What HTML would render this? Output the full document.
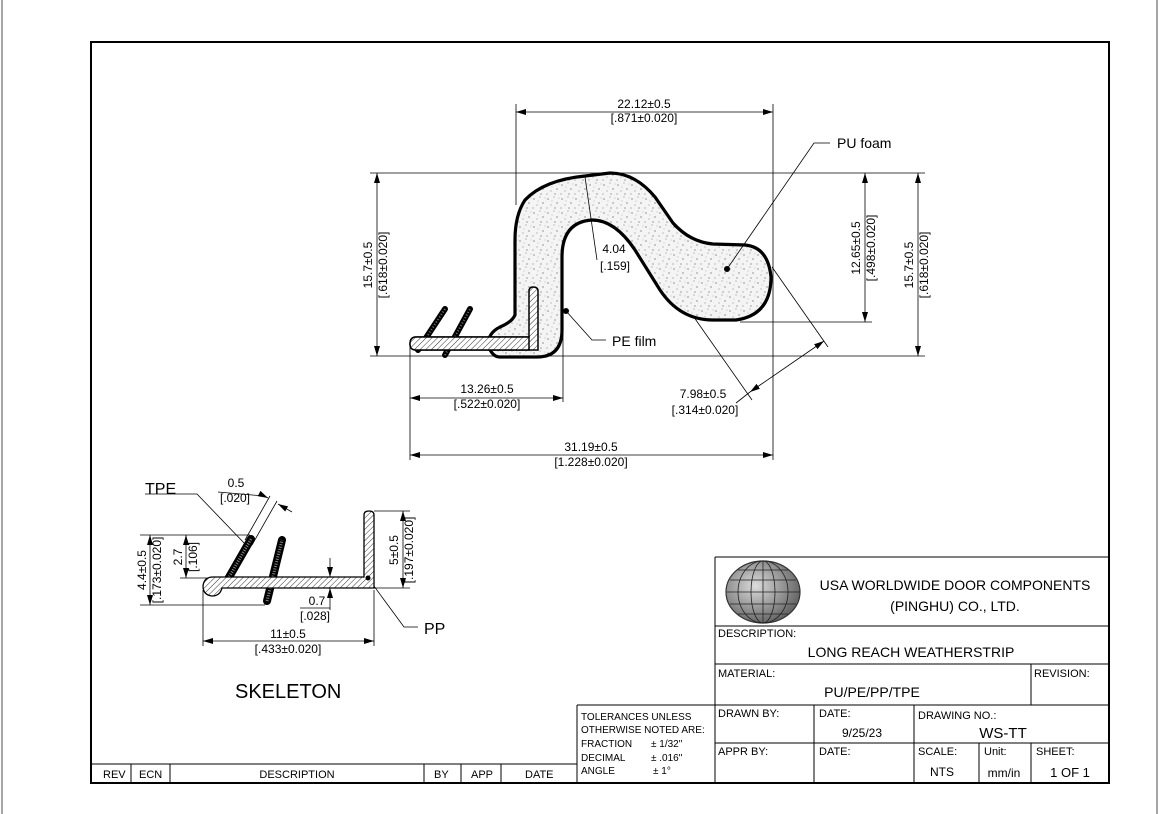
<!DOCTYPE html>
<html><head><meta charset="utf-8"><style>
html,body{margin:0;padding:0;background:#fff;}
svg{display:block;font-family:"Liberation Sans",Arial,sans-serif;}
</style></head><body>
<svg width="1160" height="814" viewBox="0 0 1160 814" xmlns="http://www.w3.org/2000/svg">
<defs>
<pattern id="dots" width="14" height="14" patternUnits="userSpaceOnUse">
<rect width="14" height="14" fill="#f4f4f4"/>
<circle cx="2" cy="3" r="0.6" fill="#555"/><circle cx="8" cy="1" r="0.5" fill="#666"/>
<circle cx="11" cy="7" r="0.6" fill="#555"/><circle cx="5" cy="9" r="0.5" fill="#666"/>
<circle cx="1" cy="12" r="0.5" fill="#555"/><circle cx="9" cy="12" r="0.6" fill="#666"/>
<circle cx="6" cy="5" r="0.4" fill="#777"/><circle cx="13" cy="2" r="0.4" fill="#777"/>
</pattern>
<pattern id="hatch" width="4" height="4" patternUnits="userSpaceOnUse" patternTransform="rotate(45)">
<rect width="4" height="4" fill="#fff"/><line x1="0" y1="0" x2="0" y2="4" stroke="#333" stroke-width="1"/>
</pattern>
<pattern id="tpe" width="3" height="3" patternUnits="userSpaceOnUse">
<rect width="3" height="3" fill="#222"/><circle cx="1.5" cy="1.5" r="0.6" fill="#bbb"/>
</pattern>
<marker id="a" viewBox="0 0 10 6" refX="10" refY="3" markerWidth="10" markerHeight="6" orient="auto-start-reverse" markerUnits="userSpaceOnUse">
<path d="M0,0 L10,3 L0,6 Z" fill="#000"/></marker>
<radialGradient id="g" cx="40%" cy="40%" r="70%"><stop offset="0" stop-color="#ddd"/><stop offset="1" stop-color="#555"/></radialGradient>
</defs>

<!-- page edges -->
<line x1="2" y1="0" x2="2" y2="814" stroke="#888" stroke-width="1.5"/>
<line x1="1157" y1="0" x2="1157" y2="814" stroke="#888" stroke-width="1.5"/>
<!-- frame -->
<rect x="91" y="42" width="1018" height="741" fill="none" stroke="#000" stroke-width="2"/>

<!-- ====== MAIN PROFILE ====== -->
<g stroke="#000" stroke-width="0.8" fill="none">
<line x1="370" y1="173" x2="925" y2="173"/>
<line x1="370" y1="356" x2="925" y2="356"/>
<line x1="740" y1="322" x2="872" y2="322"/>
<line x1="516" y1="104" x2="516" y2="205"/>
<line x1="773" y1="104" x2="773" y2="460"/>
<line x1="410" y1="345" x2="410" y2="460"/>
<line x1="563" y1="330" x2="563" y2="402"/>
<line x1="516" y1="112" x2="773" y2="112" marker-start="url(#a)" marker-end="url(#a)"/>
<line x1="410" y1="398" x2="563" y2="398" marker-start="url(#a)" marker-end="url(#a)"/>
<line x1="410" y1="455" x2="773" y2="455" marker-start="url(#a)" marker-end="url(#a)"/>
<line x1="377" y1="173" x2="377" y2="356" marker-start="url(#a)" marker-end="url(#a)"/>
<line x1="865" y1="173" x2="865" y2="322" marker-start="url(#a)" marker-end="url(#a)"/>
<line x1="918" y1="173" x2="918" y2="356" marker-start="url(#a)" marker-end="url(#a)"/>
<line x1="772" y1="267" x2="828" y2="347"/>
<line x1="691" y1="313" x2="752" y2="400"/>
<line x1="824" y1="341" x2="750" y2="392" marker-start="url(#a)" marker-end="url(#a)"/>
<line x1="736" y1="403" x2="750" y2="392"/>
</g>

<path d="M500,357 L537,357 Q562,357 562,330 L562,257 Q562,222 592,220 Q615,220 635,250 L660,290 Q680,320 713,320 L736,320 Q771,315 771,277 Q768,247 745,245 L713,244 Q690,242 673,223 L655,197 Q635,173 610,173 L585,176 Q544,180 525,200 Q515,215 515,240 L515,315 Q512,322 500,327 Q488,333 488,345 Q492,357 500,357 Z" fill="url(#dots)" stroke="#000" stroke-width="3.2"/>
<!-- PP L -->
<path d="M416,337 L529,337 L529,291 Q529,287 533,287 Q538,287 538,291 L538,350 L416,350 Q410,350 410,344 Q410,337 416,337 Z" fill="url(#hatch)" stroke="#000" stroke-width="1.5"/>
<!-- TPE fins -->
<line x1="418" y1="350" x2="445" y2="309" stroke="#000" stroke-width="6" stroke-linecap="round"/>
<line x1="445" y1="355" x2="470" y2="309" stroke="#000" stroke-width="6" stroke-linecap="round"/>
<line x1="418" y1="350" x2="445" y2="309" stroke="#777" stroke-width="2" stroke-dasharray="1 2"/>
<line x1="445" y1="355" x2="470" y2="309" stroke="#777" stroke-width="2" stroke-dasharray="1 2"/>
<path d="M416,337 L529,337 L529,350 L416,350 Q410,350 410,344 Q410,337 416,337 Z" fill="url(#hatch)" stroke="#000" stroke-width="1.5"/>

<!-- leaders -->
<g stroke="#000" stroke-width="0.8" fill="none">
<line x1="585" y1="177" x2="597" y2="260"/>
<polyline points="727,269 814,143 830,143"/>
<polyline points="566,311 592,340 606,340"/>
</g>
<circle cx="727" cy="269" r="3" fill="#000"/>
<circle cx="566" cy="311" r="3" fill="#000"/>

<g font-size="12" fill="#000">
<text x="644" y="108" text-anchor="middle">22.12±0.5</text>
<text x="644" y="122" text-anchor="middle">[.871±0.020]</text>
<text x="487" y="393" text-anchor="middle">13.26±0.5</text>
<text x="487" y="408" text-anchor="middle">[.522±0.020]</text>
<text x="591" y="451" text-anchor="middle">31.19±0.5</text>
<text x="591" y="466" text-anchor="middle">[1.228±0.020]</text>
<text x="703" y="398" text-anchor="middle">7.98±0.5</text>
<text x="705" y="414" text-anchor="middle">[.314±0.020]</text>
<text x="614" y="253" text-anchor="middle">4.04</text>
<text x="615" y="270" text-anchor="middle">[.159]</text>
<text transform="translate(372,265) rotate(-90)" text-anchor="middle">15.7±0.5</text>
<text transform="translate(387,265) rotate(-90)" text-anchor="middle">[.618±0.020]</text>
<text transform="translate(860,248) rotate(-90)" text-anchor="middle">12.65±0.5</text>
<text transform="translate(875,248) rotate(-90)" text-anchor="middle">[.498±0.020]</text>
<text transform="translate(913,265) rotate(-90)" text-anchor="middle">15.7±0.5</text>
<text transform="translate(928,265) rotate(-90)" text-anchor="middle">[.618±0.020]</text>
</g>
<text x="837" y="148" font-size="14">PU foam</text>
<text x="612" y="346" font-size="14">PE film</text>

<!-- ====== SKELETON ====== -->
<g stroke="#000" stroke-width="0.8" fill="none">
<line x1="140" y1="535" x2="250" y2="535"/>
<line x1="180" y1="578" x2="212" y2="578"/>
<line x1="140" y1="605" x2="265" y2="605"/>
<line x1="150" y1="535" x2="150" y2="605" marker-start="url(#a)" marker-end="url(#a)"/>
<line x1="186" y1="535" x2="186" y2="578" marker-start="url(#a)" marker-end="url(#a)"/>
<line x1="374" y1="511" x2="410" y2="511"/>
<line x1="374" y1="588" x2="410" y2="588"/>
<line x1="403" y1="511" x2="403" y2="588" marker-start="url(#a)" marker-end="url(#a)"/>
<line x1="203" y1="590" x2="203" y2="646"/>
<line x1="374" y1="590" x2="374" y2="646"/>
<line x1="203" y1="641" x2="374" y2="641" marker-start="url(#a)" marker-end="url(#a)"/>
<line x1="330" y1="558" x2="330" y2="577" marker-end="url(#a)"/>
<line x1="330" y1="610" x2="330" y2="588" marker-end="url(#a)"/>
<line x1="300" y1="608" x2="330" y2="608"/>
<line x1="245" y1="540" x2="270" y2="496"/>
<line x1="252" y1="545" x2="277" y2="501"/>
<line x1="218" y1="492" x2="264" y2="496"/>
<line x1="264" y1="496" x2="268" y2="498" marker-end="url(#a)"/>
<line x1="292" y1="512" x2="278" y2="504" marker-end="url(#a)"/>
<polyline points="145,494 197,494 246,545"/>
<polyline points="371,582 404,627 418,627"/>
</g>
<!-- TPE fins skeleton -->
<line x1="228" y1="579" x2="251" y2="539" stroke="#000" stroke-width="8" stroke-linecap="round"/>
<line x1="267" y1="601" x2="282" y2="540" stroke="#000" stroke-width="8" stroke-linecap="round"/>
<line x1="228" y1="579" x2="251" y2="539" stroke="#888" stroke-width="3" stroke-dasharray="1 1.5"/>
<line x1="267" y1="601" x2="282" y2="540" stroke="#888" stroke-width="3" stroke-dasharray="1 1.5"/>
<path d="M213,577 L364,577 L364,515 Q364,511 369,511 Q374,511 374,515 L374,588 L222,588 Q220,596 212,596 Q203,595 203,586 Q204,577 213,577 Z" fill="url(#hatch)" stroke="#000" stroke-width="1.3"/>
<circle cx="368" cy="578" r="2.5" fill="#000"/>

<g font-size="12" fill="#000">
<text x="236" y="487" text-anchor="middle">0.5</text>
<text x="235" y="502" text-anchor="middle">[.020]</text>
<text x="317" y="605" text-anchor="middle">0.7</text>
<text x="315" y="620" text-anchor="middle">[.028]</text>
<text x="288" y="638" text-anchor="middle">11±0.5</text>
<text x="288" y="653" text-anchor="middle">[.433±0.020]</text>
<text transform="translate(146,570) rotate(-90)" text-anchor="middle">4.4±0.5</text>
<text transform="translate(161,570) rotate(-90)" text-anchor="middle">[.173±0.020]</text>
<text transform="translate(182,557) rotate(-90)" text-anchor="middle">2.7</text>
<text transform="translate(197,557) rotate(-90)" text-anchor="middle">[.106]</text>
<text transform="translate(398,550) rotate(-90)" text-anchor="middle">5±0.5</text>
<text transform="translate(413,550) rotate(-90)" text-anchor="middle">[.197±0.020]</text>
</g>
<text x="145" y="494" font-size="16">TPE</text>
<text x="424" y="634" font-size="16">PP</text>
<text x="235" y="698" font-size="20">SKELETON</text>

<!-- ====== REV TABLE ====== -->
<g stroke="#000" stroke-width="1" fill="none">
<line x1="91" y1="764" x2="577" y2="764"/>
<line x1="131" y1="764" x2="131" y2="783"/>
<line x1="170" y1="764" x2="170" y2="783"/>
<line x1="424" y1="764" x2="424" y2="783"/>
<line x1="461" y1="764" x2="461" y2="783"/>
<line x1="501" y1="764" x2="501" y2="783"/>
<line x1="577" y1="705" x2="577" y2="783"/>
<line x1="577" y1="705" x2="715" y2="705"/>
<!-- title block -->
<line x1="715" y1="557" x2="1109" y2="557"/>
<line x1="715" y1="557" x2="715" y2="783"/>
<line x1="715" y1="626" x2="1109" y2="626"/>
<line x1="715" y1="664" x2="1109" y2="664"/>
<line x1="715" y1="705" x2="1109" y2="705"/>
<line x1="715" y1="743" x2="1109" y2="743"/>
<line x1="1031" y1="664" x2="1031" y2="705"/>
<line x1="814" y1="705" x2="814" y2="783"/>
<line x1="914" y1="705" x2="914" y2="783"/>
<line x1="979" y1="743" x2="979" y2="783"/>
<line x1="1031" y1="743" x2="1031" y2="783"/>
</g>
<g font-size="11" fill="#000">
<text x="103" y="778">REV</text>
<text x="139" y="778">ECN</text>
<text x="297" y="778" text-anchor="middle">DESCRIPTION</text>
<text x="434" y="778">BY</text>
<text x="471" y="778">APP</text>
<text x="525" y="778">DATE</text>
<text x="718" y="637" font-size="11">DESCRIPTION:</text>
<text x="718" y="677">MATERIAL:</text>
<text x="1034" y="677">REVISION:</text>
<text x="718" y="717">DRAWN BY:</text>
<text x="819" y="717">DATE:</text>
<text x="918" y="719">DRAWING NO.:</text>
<text x="718" y="755">APPR BY:</text>
<text x="819" y="755">DATE:</text>
<text x="918" y="755">SCALE:</text>
<text x="984" y="755">Unit:</text>
<text x="1036" y="755">SHEET:</text>
</g>
<g font-size="10" fill="#000">
<text x="581" y="720">TOLERANCES UNLESS</text>
<text x="581" y="733">OTHERWISE NOTED ARE:</text>
<text x="581" y="747">FRACTION</text><text x="651" y="747">± 1/32"</text>
<text x="581" y="761">DECIMAL</text><text x="651" y="761">± .016"</text>
<text x="581" y="774">ANGLE</text><text x="653" y="774">± 1°</text>
</g>
<g font-size="14" fill="#000">
<text x="955" y="590" text-anchor="middle">USA WORLDWIDE DOOR COMPONENTS</text>
<text x="955" y="611" text-anchor="middle">(PINGHU) CO., LTD.</text>
<text x="911" y="657" text-anchor="middle">LONG REACH WEATHERSTRIP</text>
<text x="872" y="697" text-anchor="middle">PU/PE/PP/TPE</text>
<text x="862" y="737" text-anchor="middle" font-size="12">9/25/23</text>
<text x="1003" y="738" text-anchor="middle" font-size="15">WS-TT</text>
<text x="942" y="776" text-anchor="middle" font-size="12">NTS</text>
<text x="1004" y="777" text-anchor="middle" font-size="12">mm/in</text>
<text x="1070" y="777" text-anchor="middle" font-size="13">1  OF  1</text>
</g>
<!-- globe -->
<g>
<ellipse cx="763" cy="592" rx="37" ry="31" fill="url(#g)" stroke="#333" stroke-width="1.2"/>
<g stroke="#222" stroke-width="0.8" fill="none">
<ellipse cx="763" cy="592" rx="25" ry="31"/>
<ellipse cx="763" cy="592" rx="12" ry="31"/>
<line x1="763" y1="561" x2="763" y2="623"/>
<line x1="727" y1="592" x2="800" y2="592"/>
<line x1="730" y1="580" x2="796" y2="580"/>
<line x1="730" y1="604" x2="796" y2="604"/>
<line x1="738" y1="570" x2="788" y2="570"/>
<line x1="738" y1="614" x2="788" y2="614"/>
</g>
</g>
</svg>
</body></html>
